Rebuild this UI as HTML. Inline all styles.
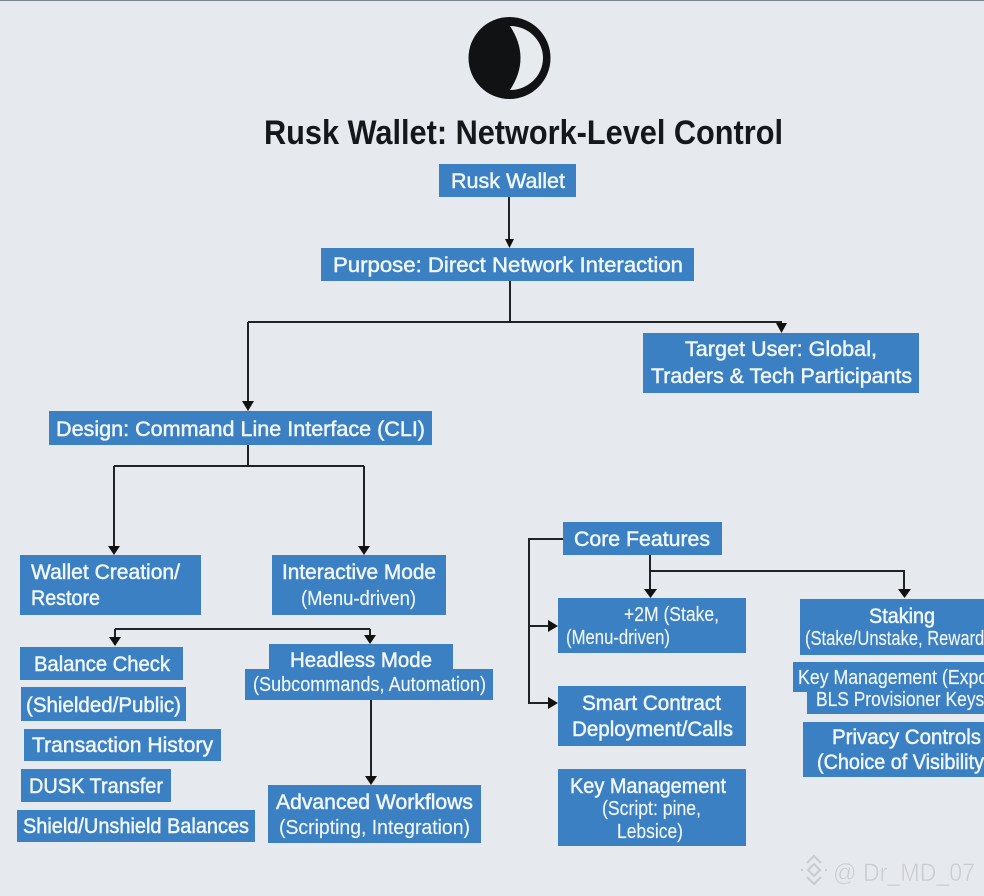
<!DOCTYPE html>
<html><head><meta charset="utf-8"><style>
html,body{margin:0;padding:0;background:#e6e9ed;width:984px;height:896px;overflow:hidden}
svg{display:block;filter:blur(.35px)}
text{font-family:"Liberation Sans",sans-serif;font-size:21.5px;fill:#f1f6fb}
.m{stroke:#f1f6fb;stroke-width:.5px}
.r{font-size:20px;stroke:#f1f6fb;stroke-width:.15px}
rect{fill:#3a80c3}
.l{fill:none;stroke:#1f2226;stroke-width:2}
.a{fill:#111}
</style></head><body>
<svg width="984" height="896" viewBox="0 0 984 896" xmlns="http://www.w3.org/2000/svg">
<rect x="0" y="0" width="984" height="896" style="fill:#e6e9ed"/>
<rect x="0" y="0" width="984" height="1" style="fill:#7d868c"/>

<circle cx="509.500" cy="58" r="41" fill="#111214"/>
<path d="M510 26 A33 32 0 0 1 510 90 Q531 58 510 26 Z" fill="#e8ebee"/>

<text x="264" y="144" textLength="519" lengthAdjust="spacingAndGlyphs" font-weight="bold" style="font-size:34px;fill:#15181b">Rusk Wallet: Network-Level Control</text>

<path class="l" d="M509 197V240M510 281V322M248 322H781V326M248 322V404M248 445V466M114 466H364M114 466V549M364 466V549M115 629H370M115 629V640M370 629V638M371 700V779M563 539H529V703H552M529 626H552M650 555V592M650 571H904V592"/>
<path class="a" d="M505 239h9l-4.500 9zM776 323h11l-5.500 10zM242 401h12l-6 10zM108 546h12l-6 9zM358 546h12l-6 9zM109 637h12l-6 9zM364 635h12l-6 9zM365 776h12l-6 9zM644 589h13l-6.500 9zM898 589h13l-6.500 9zM548 620v12l10-6zM548 697v12l10-6z"/>

<rect x="439" y="164" width="137" height="33"/>
<rect x="321" y="248" width="373" height="33"/>
<rect x="643" y="333" width="276" height="60"/>
<rect x="49" y="411" width="383" height="34"/>
<rect x="20" y="555" width="181" height="60"/>
<rect x="272" y="555" width="174" height="60"/>
<rect x="20" y="647" width="163" height="33"/>
<rect x="21" y="687" width="165" height="34"/>
<rect x="24" y="729" width="197" height="32"/>
<rect x="21" y="769" width="150" height="33"/>
<rect x="17" y="810" width="238" height="32"/>
<rect x="269" y="644" width="184" height="26"/>
<rect x="245" y="669" width="248" height="31"/>
<rect x="268" y="785" width="213" height="58"/>
<rect x="563" y="522" width="159" height="33"/>
<rect x="558" y="598" width="188" height="55"/>
<rect x="558" y="686" width="188" height="60"/>
<rect x="558" y="769" width="188" height="77"/>
<rect x="800" y="599" width="184" height="56"/>
<rect x="793" y="662" width="191" height="30"/>
<rect x="807" y="691" width="177" height="23"/>
<rect x="803" y="722" width="181" height="55"/>

<text class="m" x="451" y="188" textLength="114" lengthAdjust="spacingAndGlyphs">Rusk Wallet</text>
<text class="m" x="333" y="272" textLength="350" lengthAdjust="spacingAndGlyphs">Purpose: Direct Network Interaction</text>
<text class="m" x="685" y="356" textLength="192" lengthAdjust="spacingAndGlyphs">Target User: Global,</text>
<text class="m" x="651" y="383" textLength="261" lengthAdjust="spacingAndGlyphs">Traders &amp; Tech Participants</text>
<text class="m" x="56" y="436" textLength="369" lengthAdjust="spacingAndGlyphs">Design: Command Line Interface (CLI)</text>
<text class="m" x="31" y="579" textLength="149" lengthAdjust="spacingAndGlyphs">Wallet Creation/</text>
<text class="m" x="31" y="605" textLength="69" lengthAdjust="spacingAndGlyphs">Restore</text>
<text class="m" x="282" y="579" textLength="154" lengthAdjust="spacingAndGlyphs">Interactive Mode</text>
<text class="r" x="301" y="605" textLength="115" lengthAdjust="spacingAndGlyphs">(Menu-driven)</text>
<text class="m" x="34" y="671" textLength="136" lengthAdjust="spacingAndGlyphs">Balance Check</text>
<text class="m" x="26" y="712" textLength="155" lengthAdjust="spacingAndGlyphs">(Shielded/Public)</text>
<text class="m" x="32" y="752" textLength="181" lengthAdjust="spacingAndGlyphs">Transaction History</text>
<text class="m" x="29" y="793" textLength="134" lengthAdjust="spacingAndGlyphs">DUSK Transfer</text>
<text class="m" x="23" y="833" textLength="226" lengthAdjust="spacingAndGlyphs">Shield/Unshield Balances</text>
<text class="m" x="290" y="667" textLength="142" lengthAdjust="spacingAndGlyphs">Headless Mode</text>
<text class="r" x="253" y="691" textLength="233" lengthAdjust="spacingAndGlyphs">(Subcommands, Automation)</text>
<text class="m" x="276" y="809" textLength="197" lengthAdjust="spacingAndGlyphs">Advanced Workflows</text>
<text class="r" x="279" y="834" textLength="191" lengthAdjust="spacingAndGlyphs">(Scripting, Integration)</text>
<text class="m" x="574" y="546" textLength="136" lengthAdjust="spacingAndGlyphs">Core Features</text>
<text class="r" x="624" y="621" textLength="95" lengthAdjust="spacingAndGlyphs">+2M (Stake,</text>
<text class="r" x="566" y="644" textLength="104" lengthAdjust="spacingAndGlyphs">(Menu-driven)</text>
<text class="m" x="582" y="710" textLength="139" lengthAdjust="spacingAndGlyphs">Smart Contract</text>
<text class="m" x="572" y="736" textLength="161" lengthAdjust="spacingAndGlyphs">Deployment/Calls</text>
<text class="m" x="570" y="793" textLength="156" lengthAdjust="spacingAndGlyphs">Key Management</text>
<text class="r" x="602" y="815" textLength="99" lengthAdjust="spacingAndGlyphs">(Script: pine,</text>
<text class="r" x="617" y="838" textLength="66" lengthAdjust="spacingAndGlyphs">Lebsice)</text>
<text class="m" x="869" y="623" textLength="66" lengthAdjust="spacingAndGlyphs">Staking</text>
<text class="r" x="805" y="645" textLength="193" lengthAdjust="spacingAndGlyphs">(Stake/Unstake, Rewards)</text>
<text class="r" x="798" y="684" textLength="206" lengthAdjust="spacingAndGlyphs">Key Management (Export,</text>
<text class="r" x="816" y="706" textLength="174" lengthAdjust="spacingAndGlyphs">BLS Provisioner Keys)</text>
<text class="m" x="832" y="744" textLength="149" lengthAdjust="spacingAndGlyphs">Privacy Controls</text>
<text class="m" x="817" y="769" textLength="167" lengthAdjust="spacingAndGlyphs">(Choice of Visibility</text>

<g fill="none" stroke="#c9cdd2" stroke-width="2.200">
<path d="M814 864l6 6-6 6-6-6z"/>
<path d="M807 863l7-7 7 7M807 877l7 7 7-7"/>
<path d="M801 870h2M825 870h2"/>
</g>
<text x="833" y="881" textLength="142" lengthAdjust="spacingAndGlyphs" style="font-size:25px;fill:#c9cdd2;stroke:#f4f5f7;stroke-width:.3px">@ Dr_MD_07</text>
</svg>
</body></html>
